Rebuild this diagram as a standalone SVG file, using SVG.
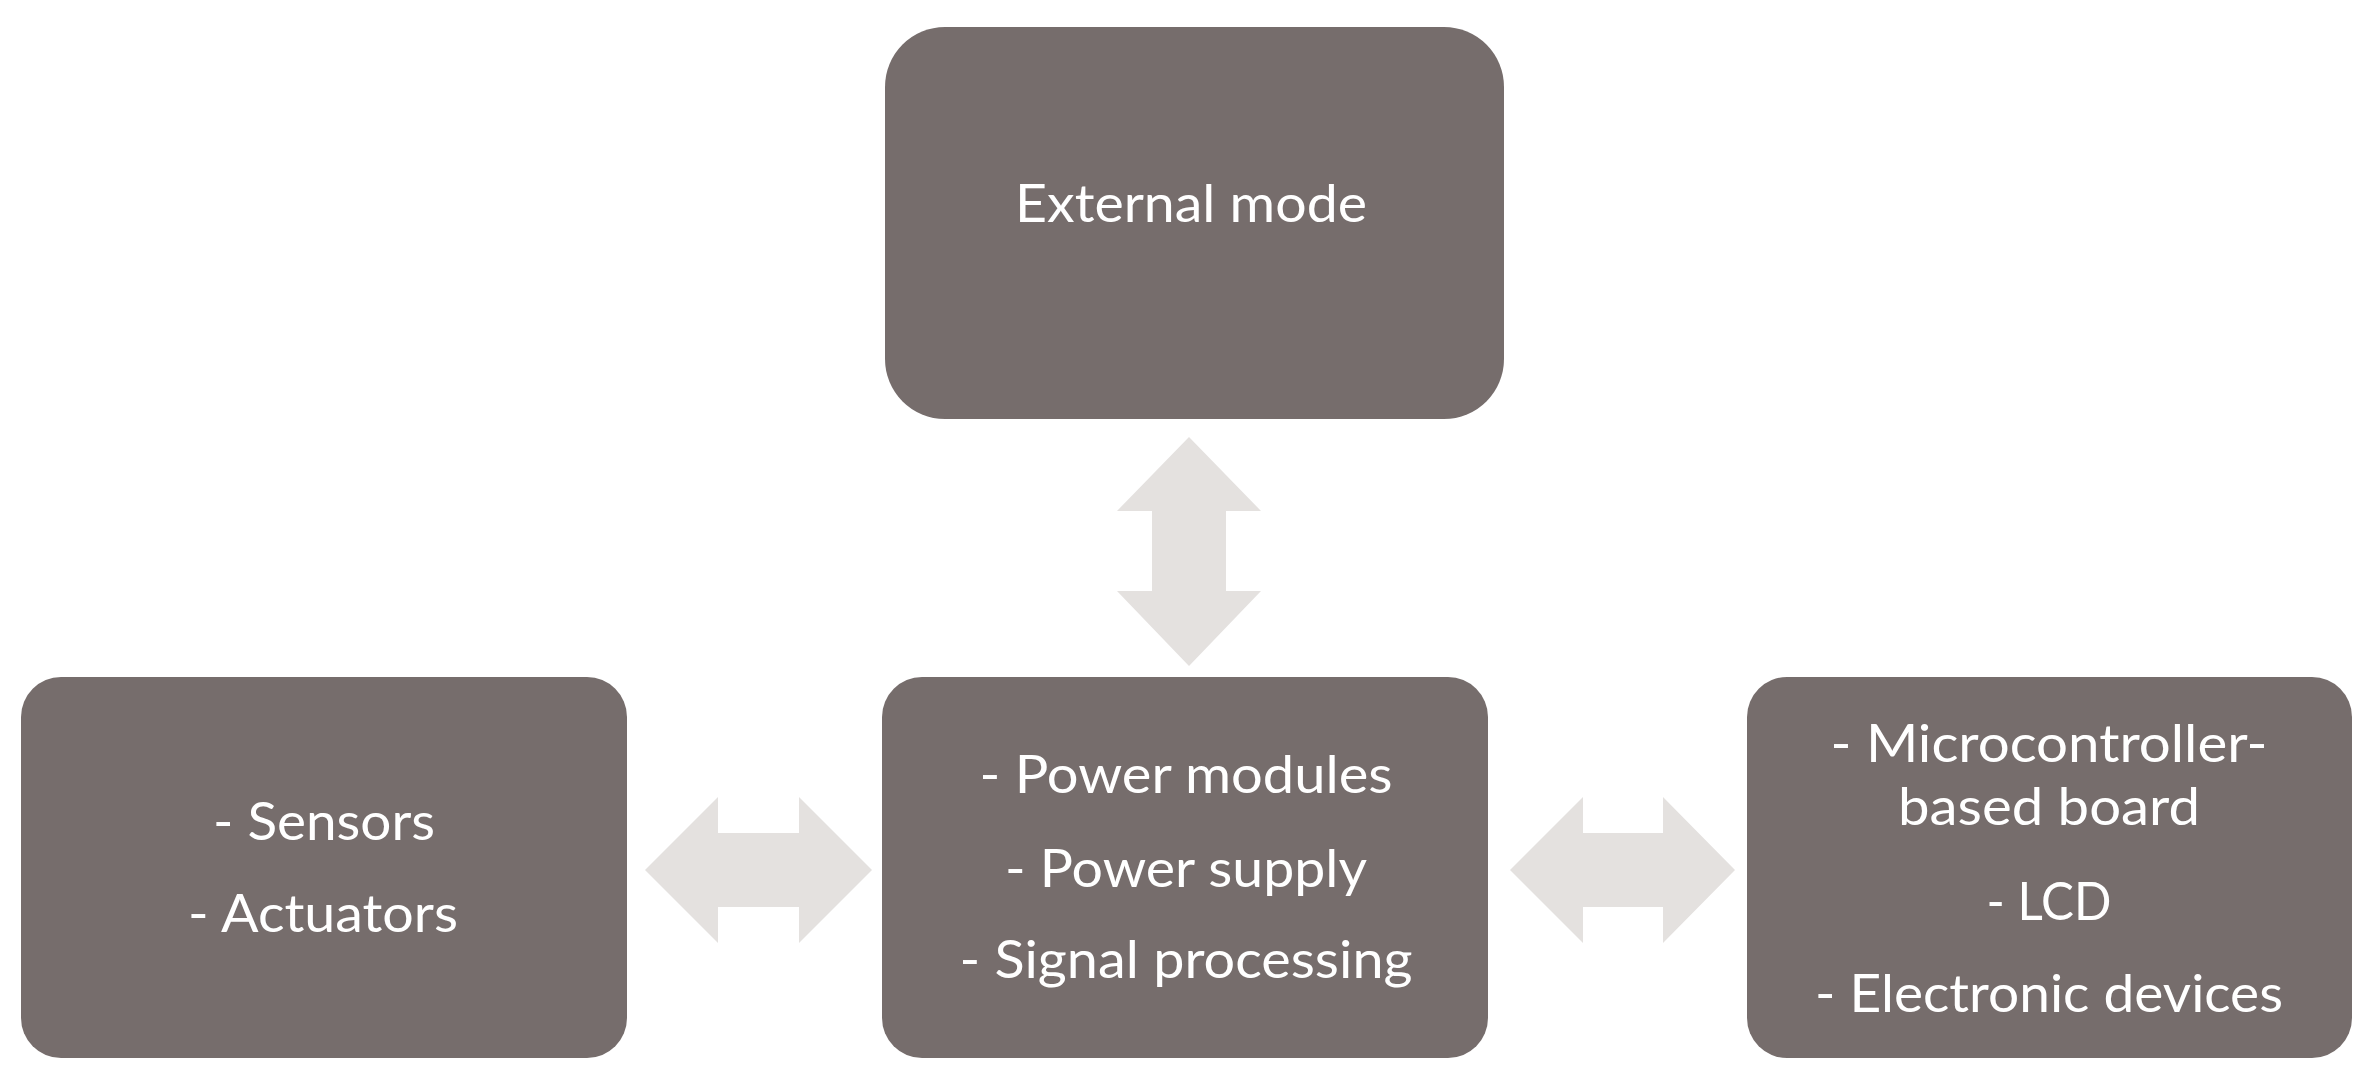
<svg xmlns="http://www.w3.org/2000/svg" width="2374" height="1087" viewBox="0 0 2374 1087">
<style>
.box{fill:#766d6c;}
.arrow{fill:#e4e1df;}
.lbl{font-family:Lato,"Open Sans","Liberation Sans",sans-serif;font-size:53px;fill:#ffffff;text-anchor:middle;}
</style>
<rect width="2374" height="1087" fill="#ffffff"/>
<g id="connectors">
<path class="arrow" d="M1189,437 L1261,511 L1226,511 L1226,591 L1261,591 L1189,666 L1117,591 L1152,591 L1152,511 L1117,511 Z"/>
<path class="arrow" d="M645,870 L718,797 L718,833 L799,833 L799,797 L872,870 L799,943 L799,907 L718,907 L718,943 Z"/>
<path class="arrow" d="M1510,870 L1583,797 L1583,833 L1663,833 L1663,797 L1735,870 L1663,943 L1663,907 L1583,907 L1583,943 Z"/>
</g>
<g id="node-external">
<rect class="box" x="885" y="27" width="619" height="392" rx="60" ry="60"/>
<text class="lbl" x="1191" y="222" textLength="352" lengthAdjust="spacingAndGlyphs">External mode</text>
</g>
<g id="node-sensors">
<rect class="box" x="21" y="677" width="606" height="381" rx="40" ry="40"/>
<text class="lbl" x="324" y="840" textLength="222" lengthAdjust="spacingAndGlyphs">- Sensors</text>
<text class="lbl" x="323" y="932" textLength="270" lengthAdjust="spacingAndGlyphs">- Actuators</text>
</g>
<g id="node-power">
<rect class="box" x="882" y="677" width="606" height="381" rx="40" ry="40"/>
<text class="lbl" x="1186" y="793" textLength="413" lengthAdjust="spacingAndGlyphs">- Power modules</text>
<text class="lbl" x="1186" y="887" textLength="362" lengthAdjust="spacingAndGlyphs">- Power supply</text>
<text class="lbl" x="1186" y="978" textLength="453" lengthAdjust="spacingAndGlyphs">- Signal processing</text>
</g>
<g id="node-micro">
<rect class="box" x="1747" y="677" width="605" height="381" rx="40" ry="40"/>
<text class="lbl" x="2049" y="762" textLength="437" lengthAdjust="spacingAndGlyphs">- Microcontroller-</text>
<text class="lbl" x="2049" y="825" textLength="302" lengthAdjust="spacingAndGlyphs">based board</text>
<text class="lbl" x="2049" y="920" textLength="125" lengthAdjust="spacingAndGlyphs">- LCD</text>
<text class="lbl" x="2049" y="1012" textLength="468" lengthAdjust="spacingAndGlyphs">- Electronic devices</text>
</g>
</svg>
